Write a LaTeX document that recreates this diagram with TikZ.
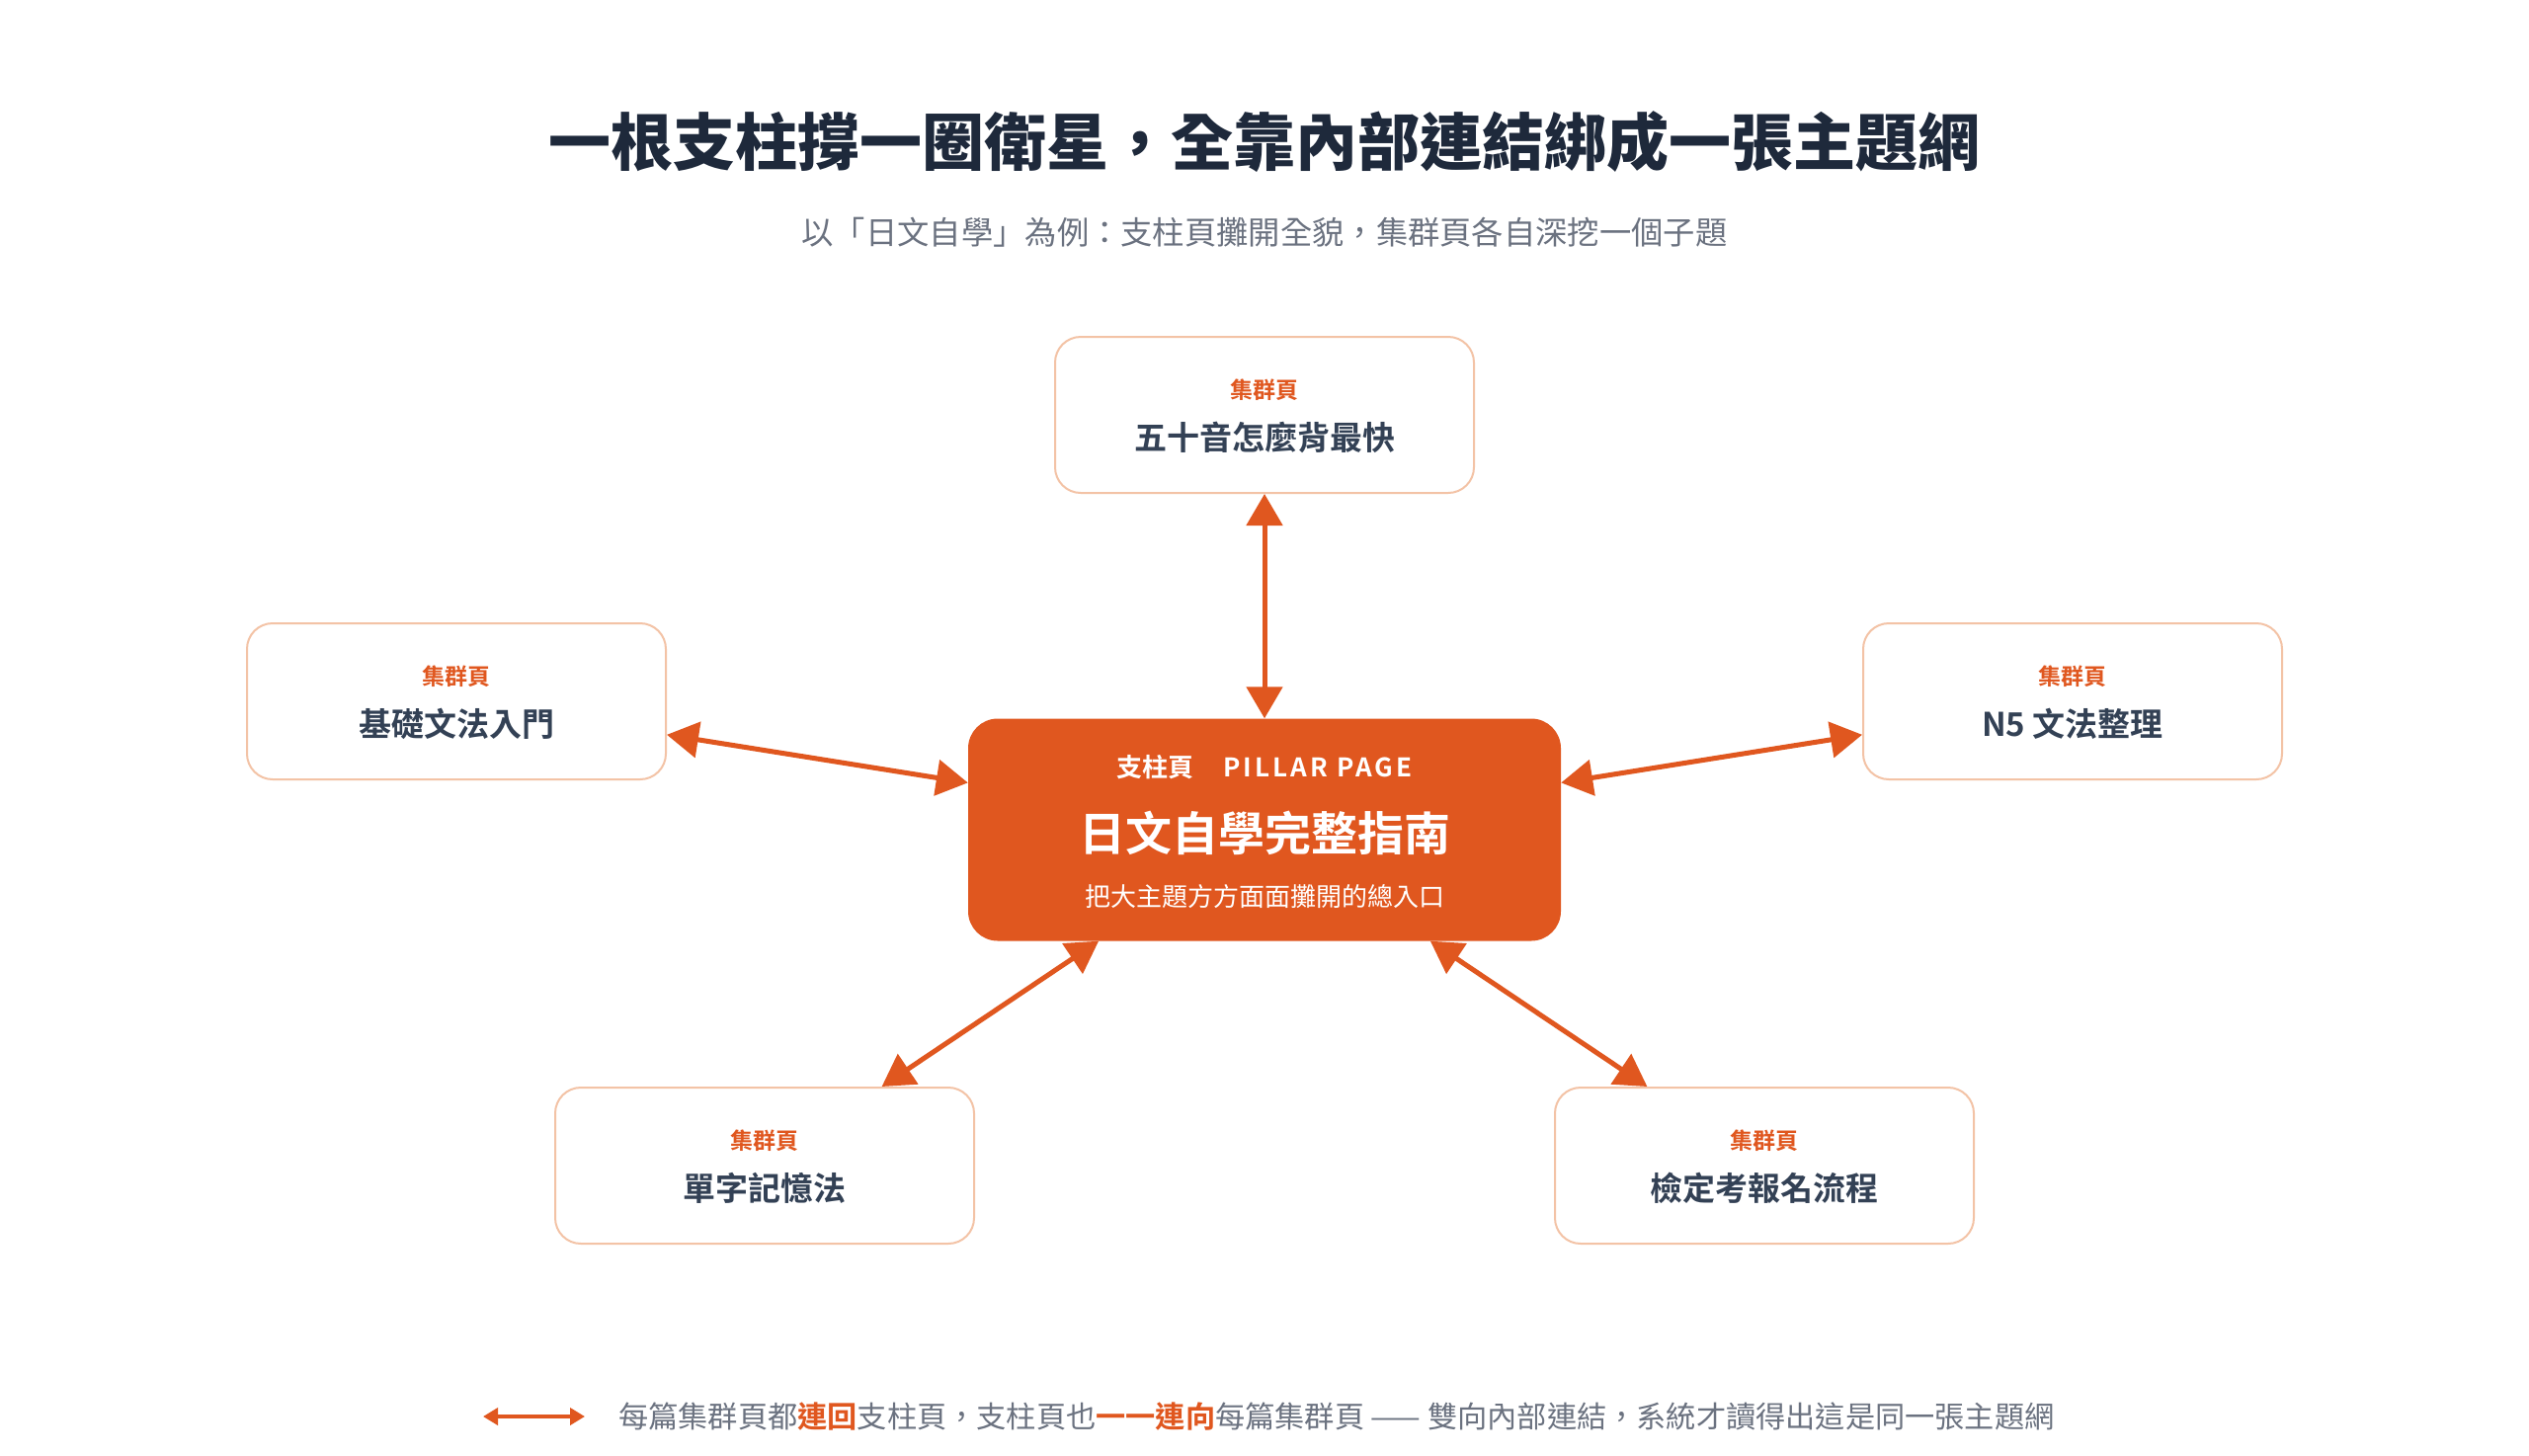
\documentclass[tikz,border=0pt]{standalone}
\usepackage{fontspec}
\setmainfont{Noto Sans CJK TC}
\newfontfamily\cjk{Noto Sans CJK TC}
\newfontfamily\cjkb{Noto Sans CJK TC Bold}
\newfontfamily\cjkblk{Noto Sans CJK TC Black}
\newfontfamily\cjkbls[LetterSpace=12]{Noto Sans CJK TC Bold}
\usetikzlibrary{arrows.meta,calc,backgrounds}
\definecolor{org}{HTML}{E0571F}
\definecolor{ink}{HTML}{1E293B}
\definecolor{slate}{HTML}{334155}
\definecolor{mute}{HTML}{6B7280}
\definecolor{bord}{HTML}{F3C3A6}
\newcommand\mkshadow[6]{% node, color, opacity, yoffset, start expansion, step
  \foreach \i in {1,...,12}{
    \fill[#2, fill opacity=#3, rounded corners=34pt]
      ($(#1.north west)+({-(#5+\i*#6)},{-(#5+\i*#6)+#4})$) rectangle
      ($(#1.south east)+({#5+\i*#6},{#5+\i*#6+#4})$);
  }}
\begin{document}
\begin{tikzpicture}[x=1pt,y=-1pt,
  sat/.style={draw=bord, line width=2pt, fill=white, rounded corners=26pt,
    minimum width=424pt, minimum height=158pt, inner sep=0pt},
  pillar/.style={fill=org, rounded corners=30pt, minimum width=600pt,
    minimum height=225pt, inner sep=0pt},
  satlab/.style={inner sep=0pt, text=org, font=\cjkb\fontsize{23}{26}\selectfont},
  satmain/.style={inner sep=0pt, text=slate, font=\cjkb\fontsize{33}{38}\selectfont},
  arr/.style={{Triangle[width=36pt,length=32pt]}-{Triangle[width=36pt,length=32pt]},
    line width=5pt, draw=org},
  legarr/.style={{Triangle[width=17pt,length=15pt]}-{Triangle[width=17pt,length=15pt]},
    line width=4pt, draw=org}]
\useasboundingbox[fill=white] (0,0) rectangle (2560,1473);

% title
\node[inner sep=0pt, text=ink, font=\cjkblk\fontsize{63}{70}\selectfont] (title) at (1280,144)
  {一根支柱撐一圈衛星，全靠內部連結綁成一張主題網};
\node[inner sep=0pt, text=mute, font=\cjk\fontsize{32.3}{38}\selectfont] (sub) at (1280,235)
  {以「日文自學」為例：支柱頁攤開全貌，集群頁各自深挖一個子題};

% nodes
\node[pillar] (c) at (1280,840) {};
\node[sat] (t) at (1280,420) {};
\node[sat] (l) at (462,710) {};
\node[sat] (r) at (2098,710) {};
\node[sat] (bl) at (774,1180) {};
\node[sat] (br) at (1786,1180) {};

\begin{scope}[on background layer]
  \mkshadow{t}{black}{0.010}{10}{-6}{1.6}
  \mkshadow{l}{black}{0.010}{10}{-6}{1.6}
  \mkshadow{r}{black}{0.010}{10}{-6}{1.6}
  \mkshadow{bl}{black}{0.010}{10}{-6}{1.6}
  \mkshadow{br}{black}{0.010}{10}{-6}{1.6}
  \mkshadow{c}{org}{0.028}{16}{-6}{3}
\end{scope}

% centre texts
\node[inner sep=0pt, text=white, font=\cjkb\fontsize{26}{30}\selectfont] (c1) at (1280,777)
  {支柱頁\hspace{30pt}{\cjkbls PILLAR PAGE}};
\node[inner sep=0pt, text=white, font=\cjkb\fontsize{47}{54}\selectfont] (c2) at (1280,843)
  {日文自學完整指南};
\node[inner sep=0pt, text=white, font=\cjk\fontsize{26}{30}\selectfont] (c3) at (1280,908)
  {把大主題方方面面攤開的總入口};

% satellite texts
\node[satlab] (tl) at ($(t)+(0,-25)$) {集群頁};
\node[satmain] (tm) at ($(t)+(0,23)$) {五十音怎麼背最快};
\node[satlab] (ll) at ($(l)+(0,-25)$) {集群頁};
\node[satmain] (lm) at ($(l)+(0,23)$) {基礎文法入門};
\node[satlab] (rl) at ($(r)+(0,-25)$) {集群頁};
\node[satmain] (rm) at ($(r)+(0,23)$) {N5 文法整理};
\node[satlab] (bll) at ($(bl)+(0,-25)$) {集群頁};
\node[satmain] (blm) at ($(bl)+(0,23)$) {單字記憶法};
\node[satlab] (brl) at ($(br)+(0,-25)$) {集群頁};
\node[satmain] (brm) at ($(br)+(0,23)$) {檢定考報名流程};

% connectors
\draw[arr] (c) -- (t);
\draw[arr] (c) -- (l);
\draw[arr] (c) -- (r);
\draw[arr] (c) -- (bl);
\draw[arr] (c) -- (br);

% legend
\coordinate (la) at (489,1434);
\coordinate (lb) at (592,1434);
\draw[legarr] (la) -- (lb);
\node[anchor=west, inner sep=0pt, text=mute, font=\cjk\fontsize{30.2}{34}\selectfont] (leg) at (626,1434)
  {每篇集群頁都{\cjkb\textcolor{org}{連回}}支柱頁，支柱頁也{\cjkb\textcolor{org}{一一連向}}每篇集群頁 —— 雙向內部連結，系統才讀得出這是同一張主題網};
\end{tikzpicture}
\end{document}
